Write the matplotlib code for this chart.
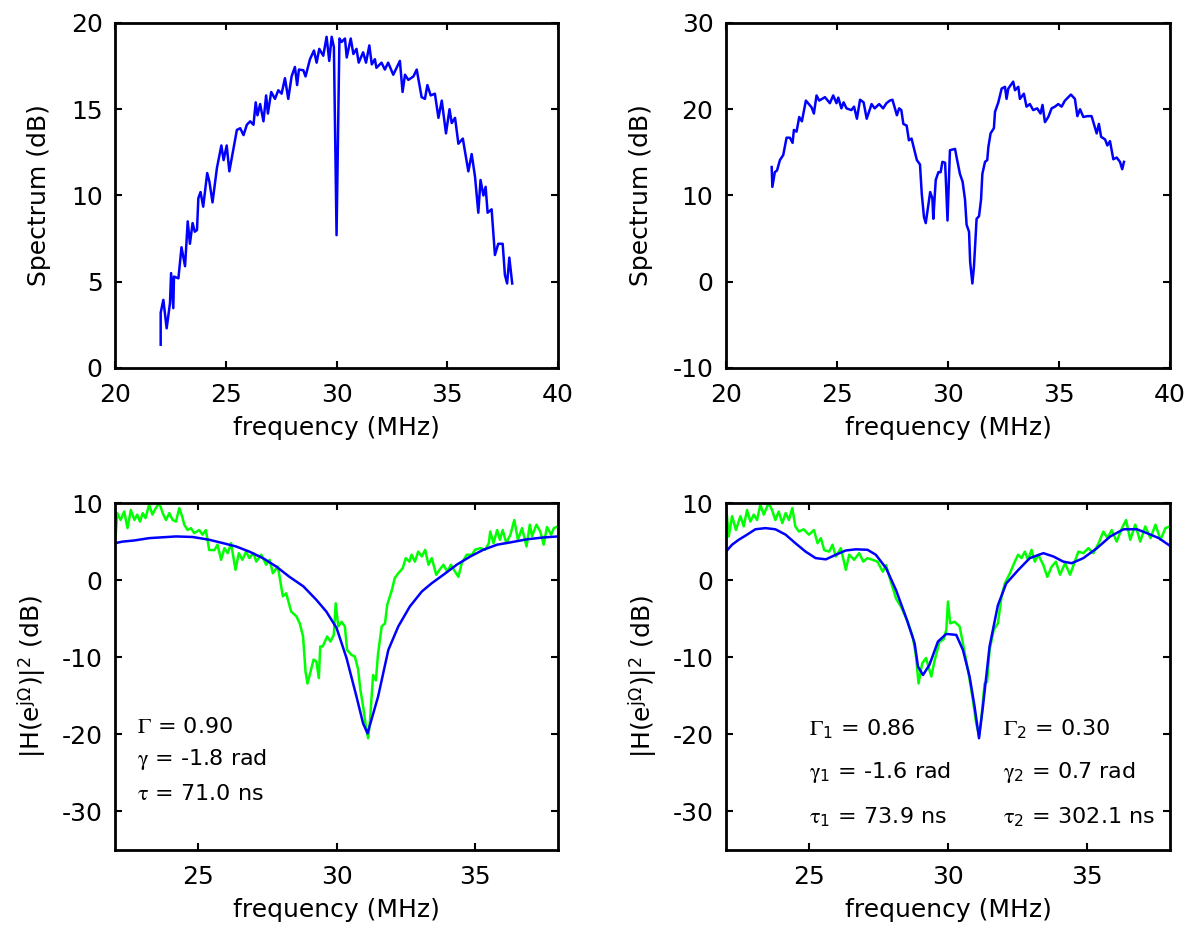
import matplotlib
matplotlib.use("Agg")
import matplotlib.pyplot as plt
import numpy as np

# top left: received spectrum
f_a = [22.06, 22.06, 22.18, 22.33, 22.48, 22.53, 22.63, 22.66, 22.86, 23.0, 23.16, 23.28, 23.38, 23.5,
       23.6, 23.7, 23.76, 23.86, 23.98, 24.16, 24.26, 24.4, 24.6, 24.8, 24.9, 25.04, 25.16, 25.5, 25.65,
       25.8, 25.95, 26.1, 26.25, 26.35, 26.43, 26.55, 26.7, 26.82, 26.9, 27.05, 27.22, 27.37, 27.52,
       27.67, 27.82, 27.97, 28.12, 28.22, 28.3, 28.5, 28.6, 28.8, 28.98, 29.1, 29.22, 29.4, 29.55, 29.67,
       29.78, 29.88, 30.0, 30.13, 30.23, 30.38, 30.46, 30.64, 30.76, 30.9, 31.0, 31.2, 31.33, 31.48,
       31.59, 31.73, 31.8, 32.03, 32.18, 32.33, 32.56, 32.86, 32.98, 33.09, 33.24, 33.47, 33.62, 33.84,
       33.99, 34.1, 34.25, 34.44, 34.6, 34.75, 34.94, 35.1, 35.2, 35.35, 35.5, 35.7, 35.95, 36.1, 36.25,
       36.4, 36.5, 36.63, 36.73, 36.82, 37.0, 37.15, 37.3, 37.5, 37.6, 37.7, 37.8, 37.93]
s_a = [1.35, 3.2, 3.95, 2.3, 3.76, 5.5, 3.47, 5.3, 5.2, 7.0, 5.9, 8.5, 7.2, 8.4,
       7.9, 8.0, 9.84, 10.2, 9.35, 11.3, 10.8, 9.6, 11.6, 12.9, 12.05, 12.9, 11.4, 13.8, 13.9,
       13.5, 14.1, 14.3, 14.1, 15.4, 14.65, 15.3, 14.3, 15.8, 14.75, 16.0, 15.6, 16.1, 15.9,
       16.8, 15.6, 16.9, 17.45, 16.4, 17.3, 17.26, 16.9, 17.9, 18.4, 17.7, 18.5, 18.1, 19.2, 17.8,
       19.2, 18.6, 7.7, 19.1, 18.9, 19.1, 18.0, 19.1, 18.2, 18.5, 17.7, 18.3, 17.7, 18.7,
       17.6, 17.9, 17.4, 17.7, 17.3, 17.7, 17.0, 17.8, 16.0, 17.0, 16.7, 16.9, 17.3, 15.7,
       15.6, 16.4, 15.8, 15.9, 14.5, 15.5, 13.6, 15.0, 14.2, 14.5, 13.0, 13.3, 11.4, 12.4, 11.1,
       9.0, 10.9, 10.0, 10.5, 9.0, 9.2, 6.55, 7.2, 7.2, 5.4, 4.9, 6.4, 4.9]

# top right: spectrum with multipath
f_b = [22.06, 22.09, 22.2, 22.3, 22.43, 22.58, 22.73, 22.88, 23.0, 23.06, 23.18, 23.3, 23.42, 23.6,
       23.7, 23.86, 23.96, 24.08, 24.2, 24.46, 24.68, 24.83, 24.98, 25.06, 25.2, 25.3, 25.43, 25.65,
       25.77, 25.9, 26.04, 26.2, 26.34, 26.56, 26.7, 26.9, 27.08, 27.23, 27.38, 27.5, 27.7, 27.8, 27.9,
       27.99, 28.14, 28.24, 28.36, 28.6, 28.74, 28.82, 28.92, 29.0, 29.2, 29.3, 29.34, 29.45, 29.57,
       29.67, 29.75, 29.87, 29.9, 29.98, 30.09, 30.32, 30.4, 30.54, 30.66, 30.77, 30.84, 30.95, 31.0,
       31.1, 31.17, 31.23, 31.29, 31.4, 31.49, 31.55, 31.67, 31.77, 31.82, 31.92, 32.07, 32.12, 32.27,
       32.42, 32.57, 32.64, 32.72, 32.94, 33.02, 33.17, 33.24, 33.42, 33.54, 33.69, 33.84, 34.02,
       34.17, 34.26, 34.37, 34.52, 34.67, 34.82, 34.97, 35.12, 35.27, 35.54, 35.72, 35.83, 35.95,
       36.1, 36.28, 36.47, 36.7, 36.8, 36.9, 37.08, 37.18, 37.3, 37.45, 37.6, 37.75, 37.85, 37.93]
s_b = [13.3, 11.0, 12.7, 12.9, 14.1, 14.7, 16.7, 16.7, 16.1, 17.6, 17.4, 19.1, 18.6, 21.0,
       20.7, 20.2, 19.5, 21.6, 21.0, 21.4, 20.7, 21.6, 20.7, 21.35, 20.1, 20.8, 20.1, 19.9,
       20.3, 18.9, 21.1, 20.8, 18.9, 20.6, 20.1, 20.6, 20.1, 20.7, 21.0, 21.1, 19.3, 20.1, 19.9,
       18.3, 18.1, 16.4, 16.6, 14.1, 13.6, 10.2, 7.5, 6.8, 10.4, 9.65, 7.3, 11.8, 12.7,
       12.7, 13.9, 13.8, 12.2, 7.1, 15.25, 15.4, 14.3, 12.5, 11.6, 9.5, 6.6, 5.8, 2.3,
       -0.2, 1.7, 4.45, 7.3, 7.6, 9.5, 12.5, 13.9, 14.1, 15.6, 17.2, 17.8, 19.7, 20.8,
       22.4, 22.6, 21.2, 22.4, 23.2, 22.2, 22.6, 21.2, 21.8, 20.3, 20.6, 19.9, 20.1,
       19.5, 20.5, 18.5, 19.1, 20.1, 20.3, 20.6, 20.3, 21.0, 21.7, 21.2, 19.2, 20.0,
       19.1, 19.2, 19.2, 17.2, 18.3, 16.8, 16.5, 15.8, 16.3, 14.2, 14.4, 13.9, 13.05, 13.9]

# bottom left: measured channel (green) and single-echo fit (blue)
f_c_meas = [22.02, 22.08, 22.2, 22.33, 22.45, 22.57, 22.7, 22.8, 22.9, 23.0, 23.1, 23.23, 23.35, 23.47,
            23.6, 23.72, 23.84, 23.96, 24.08, 24.2, 24.32, 24.42, 24.5, 24.62, 24.74, 24.86, 25.04,
            25.16, 25.28, 25.4, 25.59, 25.7, 25.83, 25.95, 26.07, 26.19, 26.35, 26.47, 26.6, 26.73,
            26.85, 27.0, 27.1, 27.28, 27.46, 27.58, 27.7, 27.88, 28.0, 28.06, 28.18, 28.36, 28.55,
            28.67, 28.79, 28.88, 28.95, 29.03, 29.17, 29.27, 29.36, 29.41, 29.5, 29.66, 29.78, 29.9,
            29.97, 30.06, 30.18, 30.3, 30.38, 30.54, 30.66, 30.78, 30.86, 30.96, 31.06, 31.14, 31.2,
            31.32, 31.42, 31.5, 31.63, 31.75, 31.83, 32.0, 32.1, 32.23, 32.39, 32.5, 32.63, 32.71,
            32.83, 32.95, 33.08, 33.2, 33.32, 33.44, 33.6, 33.72, 33.86, 34.0, 34.13, 34.28, 34.4,
            34.52, 34.7, 34.89, 35.0, 35.19, 35.37, 35.5, 35.55, 35.67, 35.8, 35.9, 36.0, 36.13,
            36.28, 36.42, 36.55, 36.7, 36.86, 36.98, 37.06, 37.22, 37.36, 37.48, 37.6, 37.75, 37.85,
            37.95]
h_c_meas = [5.7, 8.7, 7.8, 8.9, 6.75, 9.1, 7.8, 8.5, 7.6, 8.7, 8.05, 9.8, 8.5, 9.35,
            10.0, 8.7, 7.8, 8.7, 7.8, 7.6, 9.35, 8.3, 7.2, 6.5, 6.75, 6.1, 6.5,
            5.9, 6.5, 3.9, 3.9, 4.6, 2.64, 4.15, 3.5, 4.8, 1.34, 3.5, 2.64, 3.7,
            2.86, 3.5, 2.4, 3.3, 2.0, 2.64, 0.9, 1.77, -0.8, -2.1, -1.7, -4.07, -4.7,
            -5.6, -7.3, -11.9, -13.4, -12.3, -10.3, -10.55, -12.7, -8.6, -8.6, -7.3, -7.96, -7.1,
            -3.0, -6.0, -5.4, -6.0, -9.05, -9.7, -9.9, -11.6, -14.2, -16.4, -19.0, -20.5, -18.6,
            -12.3, -13.0, -9.5, -6.0, -5.6, -3.2, -1.26, 0.26, 0.9, 1.56, 2.86, 2.4, 3.3,
            2.4, 3.7, 3.07, 3.94, 2.0, 2.86, 0.7, 1.34, 2.0, 1.1, 2.0, 1.1, 0.43,
            2.2, 3.3, 3.3, 3.94, 4.15, 3.94, 4.8, 6.3, 4.8, 6.5, 5.24, 6.5, 4.8,
            5.9, 7.8, 5.24, 6.75, 4.37, 7.2, 5.7, 7.2, 6.3, 4.6, 6.9, 5.9, 6.75,
            6.9]
f_c_fit = [22.0, 22.27, 22.7, 23.23, 24.2, 24.8, 25.4, 25.9, 26.37, 26.85, 27.34, 27.82, 28.3, 28.8,
           29.27, 29.63, 30.0, 30.36, 30.72, 30.96, 31.12, 31.26, 31.5, 31.87, 32.23, 32.65, 33.08,
           33.44, 33.86, 34.34, 34.83, 35.3, 35.8, 36.28, 36.88, 37.48, 38.0]
h_c_fit = [4.8, 5.0, 5.15, 5.45, 5.67, 5.6, 5.24, 4.8, 4.37, 3.7, 2.86, 1.77, 0.43, -0.8,
           -2.55, -4.07, -6.2, -10.1, -15.1, -18.6, -19.87, -18.1, -15.1, -9.05, -6.0, -3.4, -1.47,
           -0.39, 0.7, 2.0, 3.07, 3.94, 4.6, 4.9, 5.3, 5.54, 5.67]

# bottom right: measured channel (green) and two-echo fit (blue)
f_d_meas = [22.0, 22.1, 22.22, 22.36, 22.52, 22.64, 22.76, 22.88, 23.0, 23.12, 23.24, 23.36, 23.54, 23.66,
            23.78, 23.9, 24.03, 24.15, 24.27, 24.39, 24.5, 24.63, 24.8, 24.99, 25.17, 25.3, 25.42,
            25.54, 25.72, 25.84, 25.96, 26.14, 26.32, 26.44, 26.62, 26.8, 26.95, 27.1, 27.28, 27.46,
            27.65, 27.77, 27.89, 28.0, 28.13, 28.31, 28.55, 28.73, 28.85, 28.94, 29.07, 29.21, 29.4,
            29.52, 29.7, 29.84, 29.94, 30.0, 30.08, 30.24, 30.42, 30.56, 30.72, 30.88, 31.02, 31.12,
            31.21, 31.32, 31.41, 31.5, 31.65, 31.8, 31.93, 32.05, 32.23, 32.41, 32.53, 32.65, 32.77,
            32.89, 33.01, 33.13, 33.25, 33.44, 33.58, 33.74, 33.89, 34.04, 34.22, 34.4, 34.55, 34.7,
            34.88, 35.06, 35.24, 35.43, 35.6, 35.75, 35.9, 36.08, 36.27, 36.42, 36.57, 36.75, 36.93,
            37.11, 37.3, 37.48, 37.66, 37.84, 38.0]
h_d_meas = [9.8, 5.67, 8.3, 6.5, 8.3, 6.97, 9.1, 7.6, 8.5, 7.8, 9.8, 8.5, 10.0, 9.1,
            7.8, 8.9, 7.4, 8.7, 7.8, 9.35, 6.97, 6.3, 6.6, 5.9, 6.5, 4.8, 5.45,
            3.9, 3.7, 4.6, 3.07, 4.15, 1.34, 3.3, 2.64, 3.5, 2.4, 2.86, 2.64, 2.4,
            1.1, 1.95, 0.43, -0.87, -2.4, -3.46, -5.4, -7.3, -9.9, -13.4, -10.8, -10.1, -12.5,
            -10.4, -7.96, -7.7, -6.45, -2.77, -5.6, -5.4, -6.0, -8.6, -11.6, -15.1, -18.6, -20.1,
            -17.7, -13.4, -13.2, -9.05, -6.45, -5.6, -2.16, -0.43, 0.87, 2.4, 3.3, 2.86, 3.7,
            2.6, 3.94, 2.4, 3.3, 1.95, 0.43, 1.77, 2.4, 0.7, 2.2, 0.7, 2.2, 3.7,
            3.5, 4.15, 3.5, 4.8, 6.3, 5.45, 6.5, 5.0, 6.75, 7.8, 5.24, 7.2, 5.0,
            6.97, 5.45, 7.2, 5.24, 6.75, 6.97]
f_d_fit = [22.0, 22.22, 22.46, 22.76, 23.06, 23.42, 23.78, 24.15, 24.5, 24.87, 25.23, 25.6, 25.96, 26.32,
           26.68, 27.1, 27.4, 27.77, 28.13, 28.5, 28.8, 28.92, 29.1, 29.33, 29.64, 29.94, 30.3,
           30.54, 30.78, 30.96, 31.12, 31.26, 31.5, 31.8, 32.1, 32.53, 32.95, 33.44, 33.8, 34.16,
           34.46, 34.88, 35.37, 35.85, 36.33, 36.81, 37.17, 37.6, 38.0]
h_d_fit = [3.7, 4.6, 5.24, 5.9, 6.6, 6.75, 6.6, 5.9, 4.8, 3.7, 2.86, 2.7, 3.3, 3.85,
           4.0, 3.94, 3.3, 1.56, -1.3, -4.94, -8.2, -11.2, -12.3, -11.0, -7.96, -6.97, -7.1,
           -9.05, -12.5, -16.4, -20.5, -16.4, -8.6, -3.25, -0.43, 1.3, 2.86, 3.5, 3.07, 2.4,
           2.2, 2.86, 4.15, 5.67, 6.6, 6.6, 6.1, 5.45, 4.46]

plt.rcParams['font.family'] = ['DejaVu Sans']
plt.rcParams['mathtext.fontset'] = 'stix'
plt.rcParams['axes.unicode_minus'] = False
plt.rcParams['font.size'] = 18

fig = plt.figure(figsize=(11.96, 9.34), dpi=100)

def style(ax):
    for sp in ax.spines.values():
        sp.set_linewidth(2)
    ax.tick_params(direction='in', length=5, width=1.5, top=True, right=True, labelsize=18)
    ax.tick_params(axis='x', pad=11)
    ax.tick_params(axis='y', pad=9)

ax1 = fig.add_axes([0.0962, 0.606, 0.3704, 0.3694])
ax1.plot(f_a, s_a, color='#0000ff', lw=1.8)
ax1.set_xlim(20, 40)
ax1.set_ylim(0, 20)
ax1.set_xticks([20, 25, 30, 35, 40])
ax1.set_yticks([0, 5, 10, 15, 20])
ax1.set_xlabel('frequency (MHz)', labelpad=6)
ax1.set_ylabel('Spectrum (dB)', labelpad=14)
style(ax1)

ax2 = fig.add_axes([0.607, 0.606, 0.3712, 0.3694])
ax2.plot(f_b, s_b, color='#0000ff', lw=1.8)
ax2.set_xlim(20, 40)
ax2.set_ylim(-10, 30)
ax2.set_xticks([20, 25, 30, 35, 40])
ax2.set_yticks([-10, 0, 10, 20, 30])
ax2.set_xlabel('frequency (MHz)', labelpad=6)
ax2.set_ylabel('Spectrum (dB)', labelpad=14)
style(ax2)

ylab = r'|H(e$^{\mathregular{j\Omega}}$)|$^{\mathregular{2}}$ (dB)'

ax3 = fig.add_axes([0.0962, 0.0899, 0.3704, 0.3715])
ax3.plot(f_c_meas, h_c_meas, color='#00ff00', lw=1.8)
ax3.plot(f_c_fit, h_c_fit, color='#0000ff', lw=1.8)
ax3.set_xlim(22, 38)
ax3.set_ylim(-35, 10)
ax3.set_xticks([25, 30, 35])
ax3.set_yticks([-30, -20, -10, 0, 10])
ax3.set_xlabel('frequency (MHz)', labelpad=6)
ax3.set_ylabel(ylab, labelpad=9)
ax3.text(22.8, -19.0, r'$\Gamma$ = 0.90', va='center', fontsize=16)
ax3.text(22.8, -23.3, r'$\mathrm{\gamma}$ = -1.8 rad', va='center', fontsize=16)
ax3.text(22.8, -27.7, r'$\mathrm{\tau}$ = 71.0 ns', va='center', fontsize=16)
style(ax3)

ax4 = fig.add_axes([0.607, 0.0899, 0.3712, 0.3715])
ax4.plot(f_d_meas, h_d_meas, color='#00ff00', lw=1.8)
ax4.plot(f_d_fit, h_d_fit, color='#0000ff', lw=1.8)
ax4.set_xlim(22, 38)
ax4.set_ylim(-35, 10)
ax4.set_xticks([25, 30, 35])
ax4.set_yticks([-30, -20, -10, 0, 10])
ax4.set_xlabel('frequency (MHz)', labelpad=6)
ax4.set_ylabel(ylab, labelpad=9)
ax4.text(25.0, -19.2, r'$\Gamma_{\mathregular{1}}$ = 0.86', va='center', fontsize=16)
ax4.text(25.0, -25.0, r'$\mathrm{\gamma}_{\mathregular{1}}$ = -1.6 rad', va='center', fontsize=16)
ax4.text(25.0, -30.7, r'$\mathrm{\tau}_{\mathregular{1}}$ = 73.9 ns', va='center', fontsize=16)
ax4.text(32.0, -19.2, r'$\Gamma_{\mathregular{2}}$ = 0.30', va='center', fontsize=16)
ax4.text(32.0, -25.0, r'$\mathrm{\gamma}_{\mathregular{2}}$ = 0.7 rad', va='center', fontsize=16)
ax4.text(32.0, -30.7, r'$\mathrm{\tau}_{\mathregular{2}}$ = 302.1 ns', va='center', fontsize=16)
style(ax4)

fig.savefig('out.png', dpi=100)
